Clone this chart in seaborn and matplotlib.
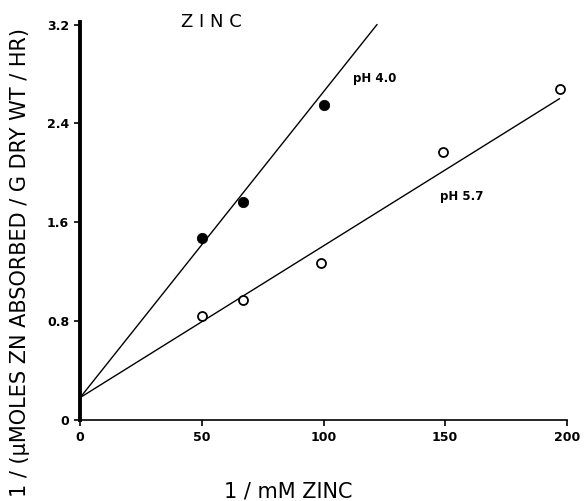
import matplotlib
matplotlib.use("Agg")
import matplotlib.pyplot as plt
import seaborn as sns
import pandas as pd

x_ph40 = [50, 67, 100]
y_ph40 = [1.47, 1.76, 2.55]
x_ph57 = [50, 67, 99, 149, 197]
y_ph57 = [0.84, 0.97, 1.27, 2.17, 2.68]

# fitted lines (end points)
fit40_x = [0, 122]
fit40_y = [0.18, 3.2]
fit57_x = [0, 197]
fit57_y = [0.18, 2.60]

xticks = [0, 50, 100, 150, 200]
yticks = [0, 0.8, 1.6, 2.4, 3.2]
ytick_labels = ["0", "0.8", "1.6", "2.4", "3.2"]

sns.set_style("ticks")
plt.rcParams['font.family'] = ['DejaVu Sans']
plt.rcParams['text.color'] = 'black'
plt.rcParams['axes.labelcolor'] = 'black'
plt.rcParams['xtick.color'] = 'black'
plt.rcParams['ytick.color'] = 'black'

fig = plt.figure(figsize=(5.85, 5.01), dpi=100)
ax = fig.add_axes([0.137, 0.162, 0.832, 0.794])

pts40 = pd.DataFrame({'x': x_ph40, 'y': y_ph40})
pts57 = pd.DataFrame({'x': x_ph57, 'y': y_ph57})
line40 = pd.DataFrame({'x': fit40_x, 'y': fit40_y})
line57 = pd.DataFrame({'x': fit57_x, 'y': fit57_y})

sns.lineplot(data=line40, x='x', y='y', ax=ax, color='black', linewidth=1.0)
sns.lineplot(data=line57, x='x', y='y', ax=ax, color='black', linewidth=1.0)
sns.scatterplot(data=pts40, x='x', y='y', ax=ax, color='black', s=55,
                edgecolor='black', zorder=3)
sns.scatterplot(data=pts57, x='x', y='y', ax=ax, facecolor='white', s=42,
                edgecolor='black', linewidth=1.3, zorder=3)

ax.set_xlim(0, 200)
ax.set_ylim(0, 3.22)
ax.set_xticks(xticks)
ax.set_xticklabels([str(t) for t in xticks], fontsize=9, fontweight='bold')
ax.set_yticks(yticks)
ax.set_yticklabels(ytick_labels, fontsize=9, fontweight='bold')
ax.tick_params(axis='both', length=4, width=1.2, pad=4)

sns.despine(ax=ax)
ax.spines['left'].set_linewidth(2.8)
ax.spines['bottom'].set_linewidth(1.2)
ax.spines['left'].set_color('black')
ax.spines['bottom'].set_color('black')

ax.set_xlabel("1 / mM ZINC", fontsize=15)
ax.xaxis.set_label_coords(0.427, -0.155)
ax.set_ylabel("1 / (\u03bcMOLES ZN ABSORBED / G DRY WT / HR)", fontsize=15)
ax.yaxis.set_label_coords(-0.102, 0.395)

ax.text(0.269, 1.0, "Z I N C", transform=ax.transAxes, fontsize=13,
        ha='center', va='center')
ax.text(112, 2.76, "pH 4.0", fontsize=8.5, fontweight='bold', va='center')
ax.text(148, 1.81, "pH 5.7", fontsize=8.5, fontweight='bold', va='center')

fig.savefig("out.png", dpi=100)
